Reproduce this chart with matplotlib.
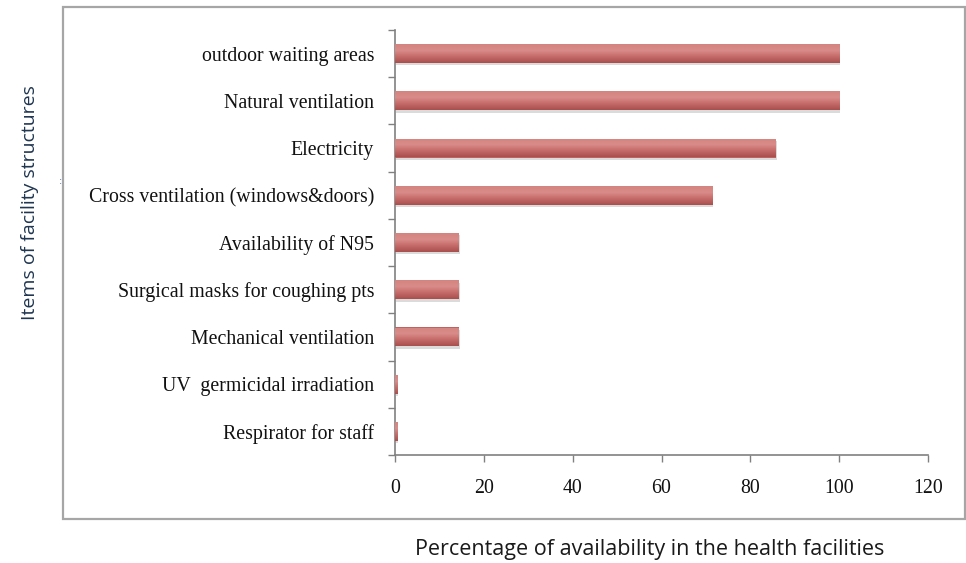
import numpy as np
import matplotlib
matplotlib.use("Agg")
import matplotlib.pyplot as plt
from matplotlib.patches import Rectangle
from matplotlib.colors import LinearSegmentedColormap

# Facility structure items (bottom to top) and their availability (%)
items = [
    "Respirator for staff",
    "UV  germicidal irradiation",
    "Mechanical ventilation",
    "Surgical masks for coughing pts",
    "Availability of N95",
    "Cross ventilation (windows&doors)",
    "Electricity",
    "Natural ventilation",
    "outdoor waiting areas",
]
availability = [0.5, 0.5, 14.3, 14.3, 14.3, 71.4, 85.7, 100, 100]
x_ticks = [0, 20, 40, 60, 80, 100, 120]

fig = plt.figure(figsize=(9.66, 5.63), dpi=100)
fig.patch.set_facecolor("white")

# Outer chart frame
frame = Rectangle((63 / 966, 1 - 519 / 563), 902 / 966, 512 / 563,
                  transform=fig.transFigure, fill=False,
                  edgecolor="#a6a6a6", linewidth=1.6, zorder=0)
fig.patches.append(frame)

ax = fig.add_axes([395 / 966, 1 - 455 / 563, 533 / 966, 425 / 563])

y = np.arange(len(items))
bar_h = 0.4
bars = ax.barh(y, availability, height=bar_h, color="#c0625f",
               edgecolor="none", zorder=2)

# Soft drop shadow and vertical shading on each bar
shade = LinearSegmentedColormap.from_list(
    "bar_shade", ["#a9504e", "#c46a68", "#d98c8a", "#d48480"])
grad = np.linspace(0, 1, 64).reshape(-1, 1)
for b in bars:
    x0, y0 = b.get_x(), b.get_y()
    w, h = b.get_width(), b.get_height()
    sh = Rectangle((x0 + 0.25, y0 - 0.05), w, h, facecolor="#999999",
                   alpha=0.35, edgecolor="none", zorder=1)
    ax.add_patch(sh)
    im = ax.imshow(grad, cmap=shade, aspect="auto",
                   extent=(x0, x0 + w, y0, y0 + h), origin="lower",
                   zorder=3, interpolation="bilinear")
    im.set_clip_path(b)

ax.set_xlim(0, 120)
ax.set_ylim(-0.5, len(items) - 0.5)
ax.set_xticks(x_ticks)
ax.set_xticklabels([str(t) for t in x_ticks])

# Category labels sit between boundary ticks
ax.set_yticks(y)
ax.set_yticklabels(items)
ax.set_yticks(np.arange(-0.5, len(items), 1.0), minor=True)
ax.tick_params(axis="y", which="major", length=0, pad=15)
ax.tick_params(axis="y", which="minor", length=5, color="#808080", width=1)
ax.tick_params(axis="x", which="major", length=5, color="#808080", width=1, pad=12)

for s in ["top", "right"]:
    ax.spines[s].set_visible(False)
for s in ["left", "bottom"]:
    ax.spines[s].set_color("#808080")
    ax.spines[s].set_linewidth(1.2)

for lbl in ax.get_yticklabels() + ax.get_xticklabels():
    lbl.set_fontfamily("Liberation Serif")
    lbl.set_fontsize(14.3)
    lbl.set_color("#111111")

fig.text(30 / 966, 1 - 203 / 563, "Items of facility structures",
         rotation=90, ha="center", va="center", fontsize=14,
         family="Open Sans", color="#1f3550")
fig.text(650 / 966, 1 - 550 / 563,
         "Percentage of availability in the health facilities",
         ha="center", va="center", fontsize=15.5, family="Open Sans",
         color="#1a1a1a")
fig.text(60 / 966, 1 - 181 / 563, ":", ha="center", va="center",
         fontsize=7, color="#4f6fb0")

fig.savefig("out.png", dpi=100)
